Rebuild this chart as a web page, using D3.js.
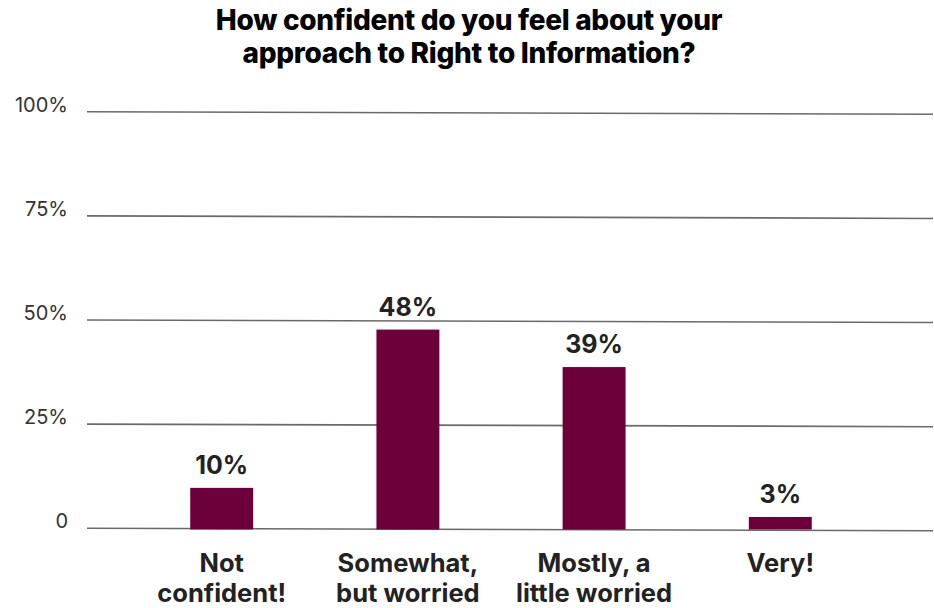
<!DOCTYPE html>
<html>
<head>
<meta charset="utf-8">
<script src="https://cdn.jsdelivr.net/npm/d3@7"></script>
<style>
  html, body { margin: 0; padding: 0; background: #fff; }
  svg { display: block; font-family: Inter, "Noto Sans", sans-serif; }
</style>
</head>
<body>
<svg id="chart" width="934" height="608"></svg>
<script>
// Survey answers and their shares (percent)
const categories = [["Not", "confident!"], ["Somewhat,", "but worried"], ["Mostly, a", "little worried"], ["Very!"]];
const values = [10, 48, 39, 3];
const tickValues = [0, 25, 50, 75, 100];
const tickLabels = ["0", "25%", "50%", "75%", "100%"];
const titleLines = ["How confident do you feel about your", "approach to Right to Information?"];

const svg = d3.select("#chart");

const x = d3.scaleBand()
  .domain(d3.range(categories.length))
  .range([128.6, 873.4])
  .paddingInner(0.662)
  .paddingOuter(0.331);

const y = d3.scaleLinear().domain([0, 100]).range([529.5, 113]);

// Title
svg.append("text")
  .attr("text-anchor", "middle")
  .attr("font-size", 28)
  .attr("font-weight", 800)
  .attr("letter-spacing", -0.3)
  .attr("fill", "#000")
  .selectAll("tspan")
  .data(titleLines)
  .join("tspan")
  .attr("x", 469)
  .attr("y", (d, i) => 30 + i * 33)
  .text(d => d);

// Horizontal gridlines (drawn with a slight downward slope to the right)
svg.append("g").selectAll("line")
  .data(tickValues)
  .join("line")
  .attr("x1", 87)
  .attr("x2", 933)
  .attr("y1", d => y(d) - 1.3)
  .attr("y2", d => y(d) + 1.3)
  .attr("stroke", "#6a6a6a")
  .attr("stroke-width", 1.6);

// Y tick labels
svg.append("g").selectAll("text")
  .data(tickValues)
  .join("text")
  .attr("x", 68)
  .attr("y", d => y(d) - 1.5)
  .attr("text-anchor", "end")
  .attr("font-size", 20)
  .attr("fill", "#333")
  .text((d, i) => tickLabels[i]);

// Bars
svg.append("g").selectAll("rect")
  .data(values)
  .join("rect")
  .attr("x", (d, i) => x(i))
  .attr("width", x.bandwidth())
  .attr("y", d => y(d))
  .attr("height", d => y(0) - y(d))
  .attr("fill", "#6b003a");

// Value labels
svg.append("g").selectAll("text")
  .data(values)
  .join("text")
  .attr("x", (d, i) => x(i) + x.bandwidth() / 2)
  .attr("y", d => y(d) - 14)
  .attr("text-anchor", "middle")
  .attr("font-size", 25)
  .attr("font-weight", 700)
  .attr("fill", "#222")
  .text(d => d + "%");

// Category labels
const cat = svg.append("g").selectAll("text")
  .data(categories)
  .join("text")
  .attr("text-anchor", "middle")
  .attr("font-size", 25.5)
  .attr("font-weight", 700)
  .attr("fill", "#222");
cat.selectAll("tspan")
  .data((d, i) => d.map(line => ({ line, i })))
  .join("tspan")
  .attr("x", d => x(d.i) + x.bandwidth() / 2)
  .attr("y", (d, j) => 572 + j * 30)
  .text(d => d.line);
</script>
</body>
</html>
